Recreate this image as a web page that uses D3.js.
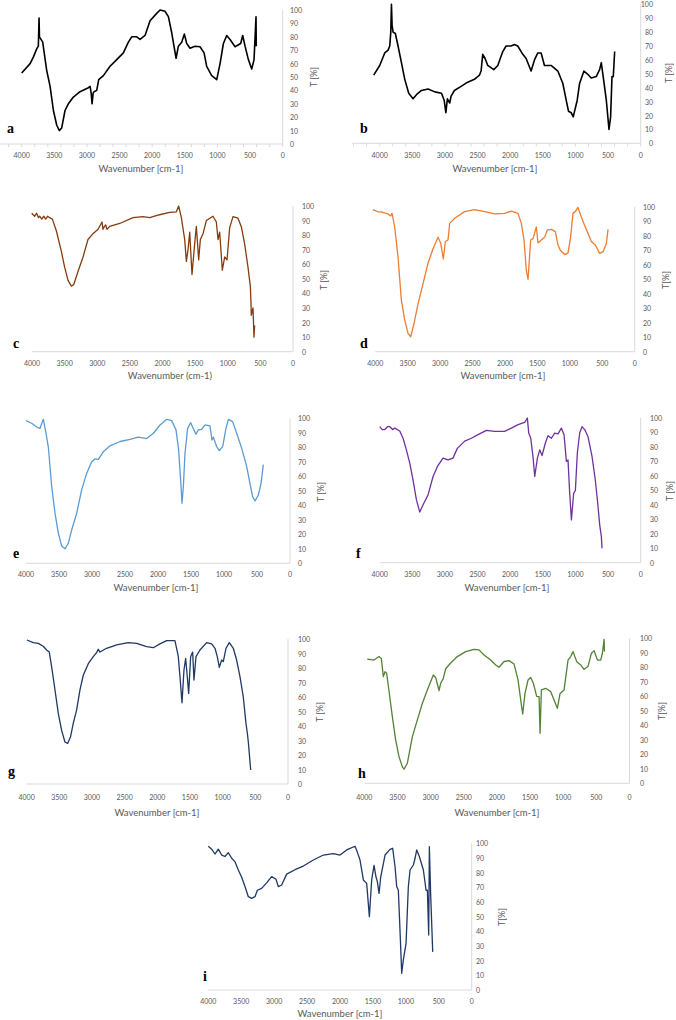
<!DOCTYPE html>
<html><head><meta charset="utf-8">
<script src="https://cdnjs.cloudflare.com/ajax/libs/d3/7.8.5/d3.min.js"></script>
<style>html,body{margin:0;padding:0;background:#fff;}svg{display:block;}</style>
</head><body>
<script>
// ---------- DATA: [wavenumber cm-1, transmittance %] ----------
const spectrumA = [[4000,53],[3871,60],[3820,65],[3770,71],[3745,73],[3734,94],[3728,80],[3678,76],[3617,55],[3565,43],[3514,25],[3463,14],[3422,10],[3387,12],[3336,25],[3285,30],[3208,35],[3106,39],[2978,42],[2952,43],[2935,38],[2922,30],[2905,38],[2891,39],[2850,40],[2820,48],[2748,51],[2646,58],[2544,63],[2442,68],[2365,76],[2314,80],[2237,80],[2186,78],[2110,81],[2033,92],[1931,97.5],[1880,100],[1803,99],[1752,95],[1701,83],[1634,64],[1599,73],[1548,76],[1507,82],[1471,75],[1420,71.5],[1343,73],[1267,72.6],[1205,68],[1165,58],[1088,51],[1011,48],[960,60],[909,75],[858,81],[807,78],[730,72.6],[644,75],[613,81],[577,73],[526,63],[475,56],[439,63],[409,95],[405,73]];

const spectrumB = [[4092,49],[4000,56],[3923,65],[3872,67],[3846,70],[3830,80],[3820,100],[3810,85],[3795,80],[3760,79],[3719,70],[3667,58],[3616,46],[3555,36],[3489,32],[3437,35],[3360,38],[3258,39],[3155,37],[3053,36],[3012,31],[2986,22],[2963,32],[2927,29],[2906,34],[2855,38],[2753,41],[2651,44],[2548,46],[2472,49],[2446,52],[2421,64],[2385,61],[2344,56],[2252,53],[2190,56],[2114,66],[2063,70],[1986,70],[1935,71],[1884,70],[1807,64],[1756,61],[1680,52],[1628,60],[1577,65],[1526,65],[1475,56],[1373,56],[1270,52],[1193,43],[1142,31],[1106,23],[1065,22],[1034,19],[973,31],[937,43],[870,52],[819,50],[758,47],[681,48],[630,53],[604,58],[578,49],[527,31],[486,10],[461,19],[440,48],[420,48],[399,66]];

const spectrumC = [[4005,95],[3960,93],[3930,95],[3900,92],[3882,93],[3850,91],[3820,93],[3790,91],[3760,93],[3729,92],[3688,91],[3627,83],[3551,69],[3500,58],[3448,49],[3397,45],[3361,46],[3295,55],[3218,65],[3142,77],[3065,81],[2988,84],[2927,89],[2912,84],[2890,86],[2871,87],[2850,84],[2810,86],[2656,88],[2452,92],[2299,92.7],[2197,92],[2044,94],[1890,95.6],[1788,96],[1752,100],[1711,92],[1660,77],[1634,62],[1609,70],[1583,82],[1548,53],[1507,74],[1481,86],[1446,63],[1420,77],[1379,81],[1328,90],[1226,93],[1175,89],[1149,77],[1124,82],[1083,56],[1047,65],[1011,63],[971,85],[920,92.7],[843,91.6],[792,85.8],[741,74],[690,58],[654,45],[645,35],[639,25],[613,30],[598,10],[588,18]];

const spectrumD = [[4036,98],[3960,96.5],[3907,96.5],[3850,95.5],[3804,95],[3763,93.6],[3742,95.4],[3701,86],[3650,65.5],[3598,35.6],[3547,22],[3495,12.6],[3454,10.3],[3403,19.5],[3341,33],[3264,47],[3187,61],[3110,71],[3033,79],[2992,75],[2951,64],[2920,76],[2879,77],[2853,88.5],[2776,92],[2622,96.6],[2468,98],[2313,96.6],[2159,95],[2005,95.4],[1902,97],[1799,95.4],[1748,88.5],[1707,77],[1671,56],[1645,50],[1604,77],[1568,78],[1517,86],[1491,75],[1440,77],[1388,79],[1347,84],[1285,84.4],[1224,82.8],[1183,73.6],[1147,70],[1080,67],[1029,68],[988,79],[952,95.4],[916,96.6],[875,99.5],[823,93],[772,87],[720,81.6],[669,76],[607,73.6],[540,67.8],[488,69],[437,74.7],[411,84.4]];

const spectrumE = [[4000,98.4],[3914,96.6],[3838,94],[3788,93],[3747,98.4],[3737,99.3],[3697,89.7],[3661,80],[3611,53],[3560,34.5],[3510,20.7],[3460,12],[3409,10],[3359,13.8],[3308,23],[3232,34.5],[3157,50.6],[3081,62],[3005,70],[2954,72],[2904,71.7],[2828,77],[2727,81],[2575,84],[2424,85.5],[2298,87],[2171,86],[2070,89.7],[1969,95.4],[1868,99.3],[1793,98.4],[1727,92],[1687,78],[1657,57.5],[1636,41.4],[1616,52.9],[1591,75.9],[1551,93],[1505,97],[1455,92],[1424,89],[1389,92],[1338,92.4],[1288,95.4],[1212,94.7],[1182,85],[1162,87],[1111,80.5],[1071,77.7],[1020,80.5],[970,93],[934,99.3],[869,97.7],[808,89.7],[732,79.3],[656,66.7],[606,55],[566,46],[530,43],[480,47],[439,55],[414,64.4],[404,68]];

const spectrumF = [[4000,94],[3960,92],[3923,92],[3880,94],[3846,94],[3800,92],[3770,93],[3693,91],[3642,86],[3591,78],[3540,69],[3489,57],[3437,43.4],[3386,35],[3335,40],[3258,47],[3182,59.6],[3115,66.5],[3029,72.3],[2953,71],[2876,72.3],[2810,79],[2698,84],[2595,86],[2493,88.5],[2365,91.5],[2238,90.8],[2084,90.8],[1982,93],[1880,95.4],[1778,97],[1737,100],[1716,89.6],[1685,86],[1650,73],[1624,59.6],[1583,72.3],[1547,78],[1512,74],[1461,82.7],[1420,87.8],[1369,86],[1318,89.6],[1267,89],[1216,93],[1175,88.5],[1139,70],[1114,71],[1088,48],[1062,29.6],[1027,48],[1001,50],[971,75.8],[935,89.6],[899,94],[858,92],[807,87],[746,73.4],[695,57],[654,38.8],[628,26],[603,18],[593,10]];

const spectrumG = [[3995,99.3],[3898,97.5],[3821,97],[3745,95],[3694,92.4],[3653,91],[3617,81],[3566,65],[3515,48.7],[3464,37],[3413,29],[3372,28],[3327,32.6],[3286,41.8],[3235,51],[3184,64.8],[3133,75],[3056,83],[2980,87.8],[2929,90.6],[2903,92.9],[2878,91],[2776,93.6],[2622,95.9],[2444,97.5],[2316,97],[2163,94.7],[2061,94],[1959,96.6],[1857,98.9],[1730,98.9],[1679,88],[1653,74],[1622,56],[1592,78.6],[1566,86.7],[1541,74],[1520,62.5],[1490,87.8],[1459,91],[1439,71.7],[1408,87.8],[1347,92.4],[1245,97.5],[1168,96.6],[1117,93.6],[1082,87.8],[1051,80.5],[1015,85.5],[990,84.4],[949,93.6],[898,97.5],[837,93.6],[786,85.5],[735,74],[684,60],[643,41.8],[622,35],[607,29],[571,9.7]];

const spectrumH = [[3955,85.7],[3854,85],[3779,87.4],[3743,86],[3713,73.6],[3688,77],[3663,75.9],[3628,64],[3577,46],[3527,30],[3477,18.4],[3427,11.5],[3401,9.7],[3351,13.8],[3276,32],[3200,43.7],[3125,55],[3049,64.4],[2959,74.7],[2924,73],[2873,64],[2848,69],[2808,72.4],[2773,79],[2697,83],[2597,87.4],[2471,90.8],[2345,92.4],[2270,92],[2194,88.5],[2094,85],[2018,81.6],[1968,80],[1892,84],[1817,84.6],[1742,82.3],[1681,71.3],[1641,57.5],[1611,47.8],[1576,62],[1530,71.3],[1490,73],[1450,69],[1400,60],[1364,59.8],[1349,34.5],[1329,64.4],[1264,65.5],[1188,63.2],[1138,57.5],[1088,51.7],[1047,62],[987,64.4],[927,85],[887,87.4],[851,90.8],[796,83.9],[736,81.6],[686,78.6],[626,80.5],[575,89.7],[534,91.5],[484,85],[434,85],[409,89.7],[383,99.3],[378,90.8]];

const spectrumI = [[4000,98],[3949,96],[3899,92.7],[3848,96],[3797,92],[3747,91],[3696,93.6],[3645,89.8],[3595,87.5],[3544,81.8],[3493,76.8],[3443,70.5],[3392,63.6],[3341,62.5],[3291,63.6],[3255,68],[3190,69.3],[3114,73],[3038,77.3],[2972,75.5],[2937,70.5],[2886,71.6],[2810,79],[2683,82],[2557,84.5],[2405,88.6],[2253,92],[2101,93],[2000,92],[1899,95.5],[1772,98],[1737,94],[1696,88.6],[1645,75],[1595,72.7],[1554,50],[1519,75],[1483,85],[1453,77],[1433,73.9],[1407,65.9],[1382,77],[1316,92],[1240,95.9],[1200,96.6],[1164,84],[1139,70.5],[1114,68],[1089,40.9],[1063,11.4],[1038,20.5],[997,31.8],[962,70.5],[936,81.8],[886,85.2],[860,89.8],[835,95.5],[795,91],[734,81.8],[693,68],[673,68],[653,37.5],[643,97.7],[622,63.6],[592,26]];

const xTickValues = [4000,3500,3000,2500,2000,1500,1000,500,0];
const yTickValues = [0,10,20,30,40,50,60,70,80,90,100];
const panelNames = ["a","b","c","d","e","f","g","h","i"];
const xTitles = ["Wavenumber [cm-1]","Wavenumber [cm-1]","Wavenumber (cm-1)","Wavenumber [cm-1]","Wavenumber [cm-1]","Wavenumber [cm-1]","Wavenumber [cm-1]","Wavenumber [cm-1]","Wavenumber [cm-1]"];
const yTitles = ["T [%]","T [%]","T [%]","T[%]","T [%]","T [%]","T [%]","T[%]","T[%]"];

// ---------- LAYOUT / STYLE (separate from data) ----------
const layout = [
 {x4000:21.7, x0:282.7, y0:144, y100:10, startWn:4330, minor:true, tickY:155, titleX:141, titleY:168, letX:7, letY:133, yLabX:313, yLabY:77, yTickX:290, yTickAnchor:"start", color:"#000000", lw:1.6},
 {x4000:379.7, x0:640.7, y0:143.3, y100:4.3, startWn:4420, minor:true, tickY:155, titleX:495, titleY:168, letX:360, letY:133, yLabX:668, yLabY:73, yTickX:653, yTickAnchor:"end", color:"#000000", lw:1.6},
 {x4000:32, x0:293, y0:351.7, y100:206, startWn:4000, tickY:363, titleX:170, titleY:375, letX:13, letY:348, yLabX:323, yLabY:280, yTickX:302, yTickAnchor:"start", color:"#843c0c", lw:1.3},
 {x4000:375.3, x0:634.7, y0:351.7, y100:206.7, startWn:4000, tickY:363, titleX:503, titleY:375, letX:360, letY:348, yLabX:665, yLabY:280, yTickX:643, yTickAnchor:"start", color:"#ed7d31", lw:1.3},
 {x4000:26, x0:290, y0:563.3, y100:418.3, startWn:4000, tickY:574, titleX:156, titleY:587, letX:13, letY:558, yLabX:320, yLabY:492, yTickX:298, yTickAnchor:"start", color:"#5b9bd5", lw:1.3},
 {x4000:379.7, x0:640.7, y0:562.7, y100:418, startWn:4000, tickY:574, titleX:507, titleY:587, letX:356, letY:558, yLabX:669, yLabY:491, yTickX:650, yTickAnchor:"start", color:"#7030a0", lw:1.3},
 {x4000:26.6, x0:288, y0:784, y100:639, startWn:4000, tickY:797, titleX:157, titleY:812, letX:8, letY:776, yLabX:319, yLabY:712, yTickX:298, yTickAnchor:"start", color:"#1f3864", lw:1.3},
 {x4000:364.3, x0:629.5, y0:783.3, y100:638.3, startWn:4000, tickY:797, titleX:497, titleY:812, letX:358, letY:778, yLabX:661, yLabY:711, yTickX:640, yTickAnchor:"start", color:"#548235", lw:1.3},
 {x4000:208.3, x0:471.7, y0:990, y100:843.3, startWn:4000, tickY:1001, titleX:340, titleY:1013, letX:203, letY:981, yLabX:501, yLabY:917, yTickX:476, yTickAnchor:"start", color:"#1f3864", lw:1.3}
];
const spectra = [spectrumA,spectrumB,spectrumC,spectrumD,spectrumE,spectrumF,spectrumG,spectrumH,spectrumI];

const W = 676, H = 1020;
const svg = d3.select("body").append("svg").attr("width", W).attr("height", H);
const axisColor = "#d9d9d9", labelColor = "#595959";
const sansFont = "Lato, 'Open Sans', sans-serif";

spectra.forEach((data, k) => {
  const L = layout[k];
  const x = d3.scaleLinear().domain([4000, 0]).range([L.x4000, L.x0]);
  const y = d3.scaleLinear().domain([0, 100]).range([L.y0, L.y100]);
  const g = svg.append("g");

  // x axis line
  g.append("line").attr("x1", x(L.startWn)).attr("x2", x(0)).attr("y1", y(0)).attr("y2", y(0))
    .attr("stroke", axisColor).attr("stroke-width", 1);
  if (L.minor) {
    g.selectAll("line.mt").data(d3.range(0, L.startWn, 200)).join("line")
      .attr("x1", d => x(d)).attr("x2", d => x(d)).attr("y1", y(0)).attr("y2", y(0) + 3)
      .attr("stroke", axisColor).attr("stroke-width", 1);
  }
  // y axis line
  g.append("line").attr("x1", x(0)).attr("x2", x(0)).attr("y1", y(0)).attr("y2", y(100))
    .attr("stroke", axisColor).attr("stroke-width", 1);

  // x tick labels
  g.selectAll("text.xt").data(xTickValues).join("text")
    .attr("x", d => x(d)).attr("y", L.tickY).attr("text-anchor", "middle").attr("dominant-baseline", "central")
    .attr("font-family", sansFont).attr("font-size", 7).attr("fill", labelColor).text(d => d);
  // y tick labels
  g.selectAll("text.yt").data(yTickValues).join("text")
    .attr("x", L.yTickX).attr("y", d => y(d)).attr("text-anchor", L.yTickAnchor).attr("dominant-baseline", "central")
    .attr("font-family", sansFont).attr("font-size", 7).attr("fill", labelColor).text(d => d);

  // axis titles
  g.append("text").attr("x", L.titleX).attr("y", L.titleY).attr("text-anchor", "middle").attr("dominant-baseline", "central")
    .attr("font-family", sansFont).attr("font-size", 9.5).attr("fill", labelColor).text(xTitles[k]);
  g.append("text").attr("transform", `translate(${L.yLabX},${L.yLabY}) rotate(-90)`)
    .attr("text-anchor", "middle").attr("dominant-baseline", "central")
    .attr("font-family", sansFont).attr("font-size", 9).attr("fill", labelColor).text(yTitles[k]);

  // spectrum
  const line = d3.line().x(d => x(d[0])).y(d => y(d[1]));
  g.append("path").datum(data).attr("d", line).attr("fill", "none")
    .attr("stroke", L.color).attr("stroke-width", L.lw).attr("stroke-linejoin", "round");

  // panel letter
  g.append("text").attr("x", L.letX).attr("y", L.letY)
    .attr("font-family", "'Liberation Serif', 'Times New Roman', serif").attr("font-weight", "bold")
    .attr("font-size", 14).attr("fill", "#000").text(panelNames[k]);
});
</script>
</body></html>
